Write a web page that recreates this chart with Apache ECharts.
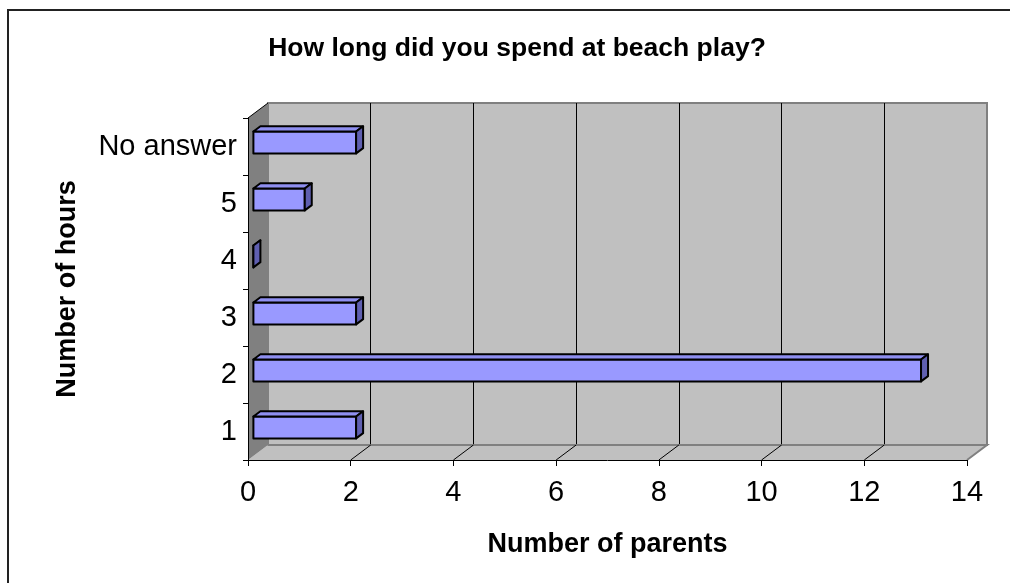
<!DOCTYPE html>
<html>
<head>
<meta charset="utf-8">
<script src="https://cdn.jsdelivr.net/npm/echarts@6/dist/echarts.min.js"></script>
<style>
  html, body { margin: 0; padding: 0; background: #fff; }
  #chart { width: 1010px; height: 583px; }
</style>
</head>
<body>
<div id="chart"></div>
<script>
// data
const categories = ['1', '2', '3', '4', '5', 'No answer']
const parents = [2, 13, 2, 0, 1, 2]
const xMin = 0, xMax = 14, xStep = 2

// layout of the pseudo 3d box
const G = { left: 248, top: 118, width: 719, height: 342 } // front plane
const DX = 20, DY = -15 // depth of the box
const F0 = 0.27, F1 = 0.62 // where the bars sit in depth
const FONT = 'Arial, "Liberation Sans", sans-serif'

const chart = echarts.init(document.getElementById('chart'), null, { renderer: 'canvas' })

const barData = categories.map((c, i) => [parents[i], i])

function renderBar (params, api) {
  const v = api.value(0)
  const i = api.value(1)
  const p0 = api.coord([0, i])
  const p1 = api.coord([v, i])
  const h = api.size([0, 1])[1] * 0.385
  const ox = DX * F0, oy = DY * F0
  const dx = DX * (F1 - F0), dy = DY * (F1 - F0)
  const xl = p0[0] + ox, xr = p1[0] + ox
  const yt = p0[1] + oy - h / 2, yb = yt + h
  const stroke = { stroke: '#000', lineWidth: 2, lineJoin: 'round' }
  return {
    type: 'group',
    children: [
      { type: 'polygon', shape: { points: [[xl, yt], [xr, yt], [xr, yb], [xl, yb]] },
        style: Object.assign({ fill: '#9999ff' }, stroke) },
      { type: 'polygon', shape: { points: [[xl, yt], [xr, yt], [xr + dx, yt + dy], [xl + dx, yt + dy]] },
        style: Object.assign({ fill: '#8f8ff0' }, stroke) },
      { type: 'polygon', shape: { points: [[xr, yt], [xr + dx, yt + dy], [xr + dx, yb + dy], [xr, yb]] },
        style: Object.assign({ fill: '#5f5fb0' }, stroke) }
    ]
  }
}

const option = {
  animation: false,
  backgroundColor: '#fff',
  title: {
    text: 'How long did you spend at beach play?',
    left: 512,
    top: 30,
    textAlign: 'center',
    textStyle: { fontFamily: FONT, fontSize: 26.5, fontWeight: 'bold', color: '#000' }
  },
  grid: [
    { left: G.left, top: G.top, width: G.width, height: G.height },
    { left: G.left + DX, top: G.top + DY, width: G.width, height: G.height,
      show: true, backgroundColor: '#c0c0c0', borderColor: '#808080', borderWidth: 2, z: 0 }
  ],
  xAxis: [
    {
      gridIndex: 0, type: 'value', min: xMin, max: xMax, interval: xStep,
      name: 'Number of parents', nameLocation: 'middle', nameGap: 71,
      nameTextStyle: { fontFamily: FONT, fontSize: 27, fontWeight: 'bold', color: '#000' },
      axisLine: { show: true, lineStyle: { color: '#000', width: 1 } },
      axisTick: { show: true, length: 6, lineStyle: { color: '#000' } },
      axisLabel: { fontFamily: FONT, fontSize: 29, color: '#000', margin: 18 },
      splitLine: { show: false },
      z: 5
    },
    {
      gridIndex: 1, type: 'value', min: xMin, max: xMax, interval: xStep,
      axisLine: { show: false }, axisTick: { show: false }, axisLabel: { show: false },
      splitLine: { show: true, showMinLine: false, showMaxLine: false, lineStyle: { color: '#000', width: 1 } }
    }
  ],
  yAxis: [
    {
      gridIndex: 0, type: 'category', data: categories,
      name: 'Number of hours', nameLocation: 'middle', nameGap: 167,
      nameTextStyle: { fontFamily: FONT, fontSize: 27, fontWeight: 'bold', color: '#000' },
      axisLine: { show: true, lineStyle: { color: '#000', width: 1 } },
      axisTick: { show: true, length: 5, lineStyle: { color: '#000' } },
      axisLabel: { fontFamily: FONT, fontSize: 29, color: '#000', margin: 11 },
      z: 5
    },
    {
      gridIndex: 1, type: 'category', data: categories,
      axisLine: { show: false }, axisTick: { show: false }, axisLabel: { show: false }
    }
  ],
  series: [
    {
      type: 'custom',
      xAxisIndex: 0,
      yAxisIndex: 0,
      renderItem: renderBar,
      encode: { x: 0, y: 1 },
      data: barData,
      z: 10
    }
  ]
}

chart.setOption(option)

// walls and floor of the box, built from the axis positions
function drawBox () {
  const x0 = G.left, y0 = G.top, x1 = G.left + G.width, y1 = G.top + G.height
  const els = []
  els.push({ type: 'rect', shape: { x: 8, y: 10, width: 1020, height: 600 },
    style: { fill: null, stroke: '#222', lineWidth: 2 }, z: 20, silent: true })
  // floor
  els.push({ type: 'polygon', shape: { points: [[x0, y1], [x1, y1], [x1 + DX, y1 + DY], [x0 + DX, y1 + DY]] },
    style: { fill: '#c0c0c0', stroke: null }, z: 1 })
  els.push({ type: 'polyline', shape: { points: [[x0 + DX, y1 + DY], [x1 + DX, y1 + DY], [x1, y1]] },
    style: { stroke: '#808080', lineWidth: 2, fill: null }, z: 2 })
  for (let v = xMin + xStep; v < xMax; v += xStep) {
    const px = chart.convertToPixel({ xAxisIndex: 0 }, v)
    els.push({ type: 'line', shape: { x1: px, y1: y1, x2: px + DX, y2: y1 + DY },
      style: { stroke: '#000', lineWidth: 1 }, z: 2 })
  }
  // side wall
  els.push({ type: 'polygon', shape: { points: [[x0, y1], [x0, y0], [x0 + DX, y0 + DY], [x0 + DX, y1 + DY]] },
    style: { fill: '#808080', stroke: null }, z: 1 })
  els.push({ type: 'line', shape: { x1: x0, y1: y0, x2: x0 + DX, y2: y0 + DY },
    style: { stroke: '#000', lineWidth: 1 }, z: 2 })
  chart.setOption({ graphic: { elements: els } })
}
drawBox()
</script>
</body>
</html>
